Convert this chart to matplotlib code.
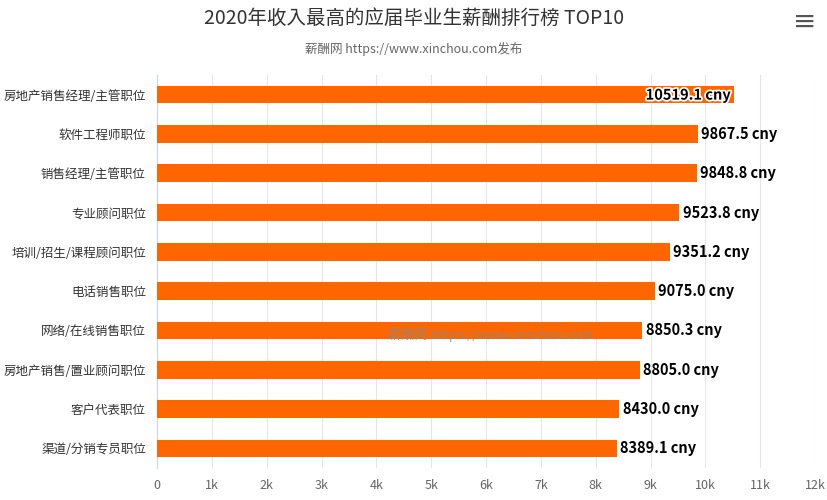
import matplotlib
matplotlib.use("Agg")
import matplotlib.pyplot as plt
import matplotlib.patheffects as pe
from matplotlib import font_manager

categories = ["房地产销售经理/主管职位","软件工程师职位","销售经理/主管职位","专业顾问职位","培训/招生/课程顾问职位",
              "电话销售职位","网络/在线销售职位","房地产销售/置业顾问职位","客户代表职位","渠道/分销专员职位"]
values = [10519.1,9867.5,9848.8,9523.8,9351.2,9075.0,8850.3,8805.0,8430.0,8389.1]
ticks = list(range(0,12001,1000))
tick_labels = ["0"]+[f"{i}k" for i in range(1,13)]

names = {f.name for f in font_manager.fontManager.ttflist}
cjk = [n for n in ["Noto Sans CJK SC","Noto Sans CJK JP","Noto Sans CJK TC","Noto Sans CJK KR"] if n in names]
plt.rcParams["font.family"] = "sans-serif"
plt.rcParams["font.sans-serif"] = cjk + ["DejaVu Sans"]

fig = plt.figure(figsize=(8.28,5.0), dpi=100)
ax = fig.add_axes([157/828, 1-468/500, (815-157)/828, (468-75)/500])
y = list(range(len(categories)))
ax.barh(y, values, height=0.45, color="#ff6600", zorder=3)
for i, (yi, v) in enumerate(zip(y, values)):
    if i == 0:
        ax.text(v-60, yi, f"{v:.1f} cny", va="center", ha="right", fontsize=10.5, fontweight="bold", color="black", zorder=4,
                path_effects=[pe.withStroke(linewidth=2.5, foreground="white")])
    else:
        ax.text(v+60, yi, f"{v:.1f} cny", va="center", ha="left", fontsize=10.5, fontweight="bold", color="black", zorder=4)
ax.set_ylim(len(categories)-0.5, -0.5)
ax.set_xlim(0, 12000)
ax.set_xticks(ticks)
ax.set_xticklabels(tick_labels, color="#666666", fontsize=9)
ax.set_yticks(y)
ax.set_yticklabels(categories, fontsize=9, color="#333333")
ax.tick_params(length=0, pad=8)
ax.grid(axis="x", color="#e6e6e6", zorder=0)
for s in ["top","right","bottom"]:
    ax.spines[s].set_visible(False)
ax.spines["left"].set_color("#ccd6eb")
fig.text(0.5, 1-18/500, "2020年收入最高的应届毕业生薪酬排行榜 TOP10", ha="center", va="center", fontsize=14, color="#333333")
fig.text(0.5, 1-49/500, "薪酬网 https://www.xinchou.com发布", ha="center", va="center", fontsize=9, color="#666666")
fig.text(490/828, 1-335/500, "薪酬网 https://www.xinchou.com", ha="center", va="center", fontsize=9.5, color="#888888", alpha=0.8)
fig.text(805/828, 1-22/500, "≡", ha="center", va="center", fontsize=20, color="#555555", fontfamily="DejaVu Sans")
fig.savefig("out.png", dpi=100)
